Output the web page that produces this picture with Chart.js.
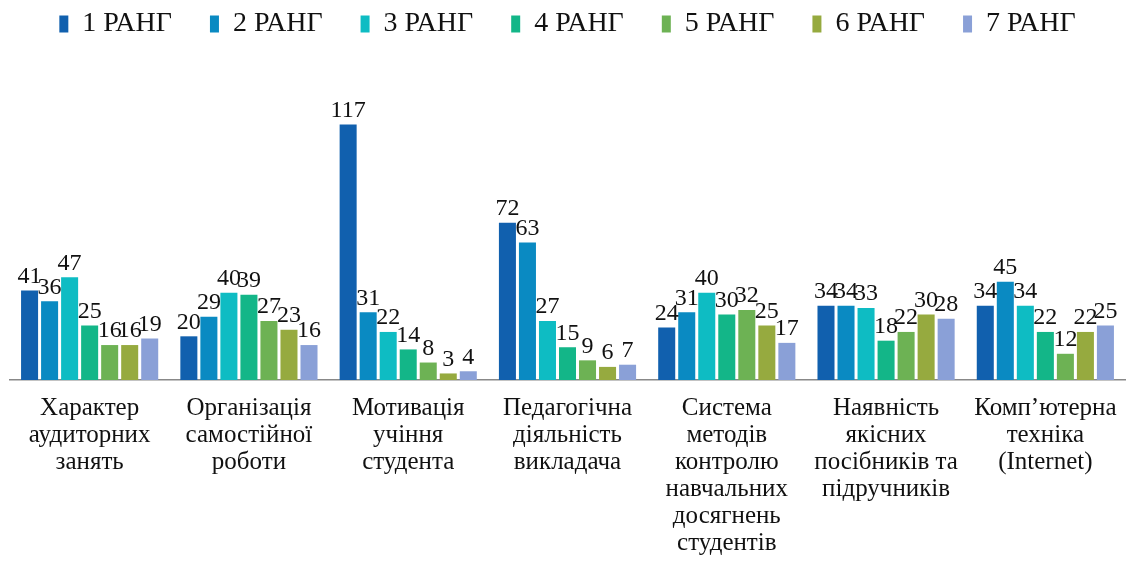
<!DOCTYPE html>
<html>
<head>
<meta charset="utf-8">
<script src="https://cdn.jsdelivr.net/npm/chart.js@4/dist/chart.umd.min.js"></script>
<style>
  html, body { margin: 0; padding: 0; background: #fff; }
  #wrap { width: 1138px; height: 565px; }
</style>
</head>
<body>
<div id="wrap"><canvas id="chart" width="1138" height="565"></canvas></div>
<script>
// categories (multi-line labels)
const categories = [
  ['Характер', 'аудиторних', 'занять'],
  ['Організація', 'самостійної', 'роботи'],
  ['Мотивація', 'учіння', 'студента'],
  ['Педагогічна', 'діяльність', 'викладача'],
  ['Система', 'методів', 'контролю', 'навчальних', 'досягнень', 'студентів'],
  ['Наявність', 'якісних', 'посібників та', 'підручників'],
  ['Комп\u2019ютерна', 'техніка', '(Internet)']
];

const seriesNames = ['1 РАНГ', '2 РАНГ', '3 РАНГ', '4 РАНГ', '5 РАНГ', '6 РАНГ', '7 РАНГ'];

const rank1 = [41, 20, 117, 72, 24, 34, 34];
const rank2 = [36, 29, 31, 63, 31, 34, 45];
const rank3 = [47, 40, 22, 27, 40, 33, 34];
const rank4 = [25, 39, 14, 15, 30, 18, 22];
const rank5 = [16, 27, 8, 9, 32, 22, 12];
const rank6 = [16, 23, 3, 6, 25, 30, 22];
const rank7 = [19, 16, 4, 7, 17, 28, 25];

const colors = ['#1160ae', '#0a8ac2', '#0ebcc3', '#13b688', '#6db254', '#96aa3f', '#8aa0d7'];

const serif = '"Liberation Serif", "DejaVu Serif", serif';

// simple value labels above each bar
const barLabels = {
  id: 'barLabels',
  afterDatasetsDraw(chart) {
    const ctx = chart.ctx;
    ctx.save();
    ctx.font = '24px ' + serif;
    ctx.fillStyle = '#111';
    ctx.textAlign = 'center';
    ctx.textBaseline = 'bottom';
    chart.data.datasets.forEach((ds, i) => {
      const meta = chart.getDatasetMeta(i);
      meta.data.forEach((bar, j) => {
        ctx.fillText(ds.data[j], bar.x, bar.y - 2);
      });
    });
    ctx.restore();
  }
};

const allData = [rank1, rank2, rank3, rank4, rank5, rank6, rank7];

new Chart(document.getElementById('chart'), {
  type: 'bar',
  data: {
    labels: categories,
    datasets: allData.map((d, i) => ({
      label: seriesNames[i],
      data: d,
      backgroundColor: colors[i],
      borderWidth: 0,
      categoryPercentage: 0.88,
      barPercentage: 0.85
    }))
  },
  options: {
    responsive: false,
    animation: false,
    layout: { padding: { left: 10, right: 13, top: -28, bottom: 0 } },
    plugins: {
      legend: {
        position: 'top',
        labels: {
          boxWidth: 9,
          boxHeight: 17,
          padding: 38,
          color: '#111',
          font: { family: serif, size: 28 }
        }
      },
      tooltip: { enabled: false }
    },
    scales: {
      x: {
        grid: { display: false, drawTicks: false },
        border: { display: true, color: '#888', width: 1.5 },
        afterFit(scale) { scale.height -= 7; },
        ticks: {
          color: '#111',
          padding: 15,
          maxRotation: 0,
          autoSkip: false,
          font: { family: serif, size: 25, lineHeight: 1.08 }
        }
      },
      y: {
        display: false,
        min: 0,
        max: 152
      }
    }
  },
  plugins: [barLabels]
});
</script>
</body>
</html>
